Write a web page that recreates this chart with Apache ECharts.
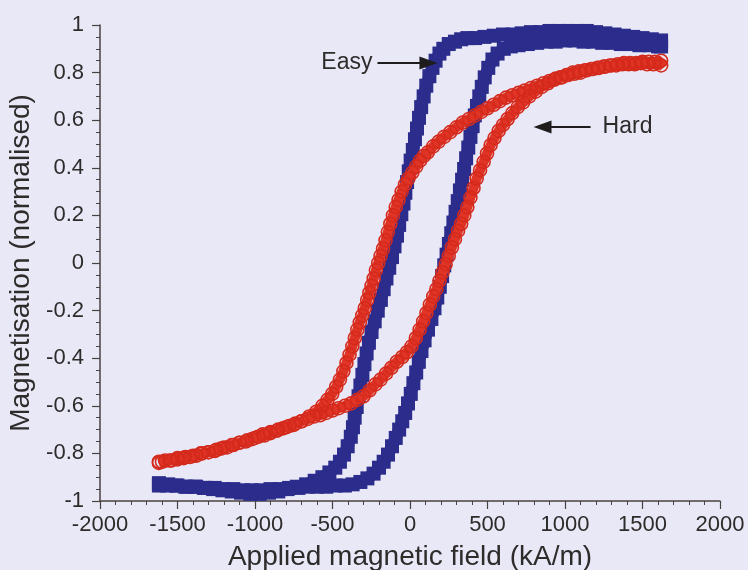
<!DOCTYPE html>
<html><head><meta charset="utf-8">
<script src="https://cdn.jsdelivr.net/npm/echarts@6/dist/echarts.min.js"></script>
<style>html,body{margin:0;padding:0;background:#e8e8f7;} #c{width:748px;height:570px;}</style>
</head><body><div id="c"></div><script>
// Easy axis loop: ascending branch (H increasing) then descending branch (H decreasing)
const easyAscending = [[-1620,-0.925],[-1560,-0.93],[-1500,-0.935],[-1440,-0.94],[-1380,-0.94],[-1320,-0.945],[-1260,-0.945],[-1200,-0.95],[-1140,-0.95],[-1080,-0.955],[-1020,-0.955],[-960,-0.955],[-900,-0.95],[-840,-0.95],[-780,-0.945],[-720,-0.945],[-660,-0.94],[-600,-0.94],[-540,-0.94],[-480,-0.935],[-420,-0.935],[-370,-0.93],[-320,-0.92],[-275,-0.905],[-235,-0.885],[-200,-0.86],[-170,-0.835],[-142,-0.805],[-116,-0.77],[-92,-0.735],[-70,-0.70],[-50,-0.665],[-31,-0.63],[-13,-0.59],[5,-0.55],[22,-0.505],[40,-0.46],[57,-0.415],[74,-0.37],[94,-0.325],[116,-0.28],[138,-0.235],[158,-0.19],[176,-0.145],[192,-0.10],[207,-0.055],[221,-0.01],[236,0.035],[251,0.08],[266,0.125],[280,0.17],[294,0.215],[308,0.26],[322,0.305],[336,0.35],[349,0.395],[362,0.44],[376,0.485],[390,0.53],[404,0.575],[418,0.62],[432,0.66],[447,0.70],[463,0.74],[482,0.78],[505,0.82],[532,0.855],[565,0.88],[605,0.90],[650,0.91],[700,0.915],[760,0.92],[820,0.925],[880,0.93],[940,0.93],[1000,0.935],[1060,0.935],[1120,0.93],[1180,0.93],[1240,0.925],[1300,0.925],[1360,0.92],[1420,0.92],[1480,0.915],[1540,0.915],[1600,0.91],[1620,0.91]];
const easyDescending = [[1620,0.935],[1560,0.94],[1500,0.945],[1440,0.95],[1380,0.955],[1320,0.96],[1260,0.965],[1200,0.97],[1140,0.975],[1080,0.975],[1020,0.975],[960,0.975],[900,0.975],[840,0.97],[780,0.97],[720,0.965],[660,0.96],[600,0.96],[540,0.955],[480,0.95],[420,0.945],[370,0.945],[330,0.94],[290,0.93],[250,0.92],[215,0.90],[190,0.88],[165,0.85],[145,0.82],[125,0.785],[105,0.745],[88,0.70],[72,0.655],[58,0.61],[45,0.565],[32,0.52],[18,0.475],[4,0.43],[-8,0.385],[-19,0.34],[-30,0.295],[-42,0.25],[-56,0.205],[-70,0.16],[-84,0.115],[-100,0.07],[-116,0.025],[-134,-0.02],[-152,-0.065],[-170,-0.11],[-188,-0.155],[-208,-0.20],[-228,-0.245],[-248,-0.29],[-265,-0.335],[-280,-0.38],[-294,-0.425],[-307,-0.47],[-320,-0.515],[-332,-0.56],[-344,-0.605],[-357,-0.65],[-368,-0.69],[-382,-0.73],[-402,-0.77],[-426,-0.805],[-452,-0.835],[-482,-0.86],[-520,-0.88],[-565,-0.90],[-615,-0.915],[-670,-0.93],[-730,-0.94],[-790,-0.95],[-850,-0.96],[-910,-0.965],[-970,-0.97],[-1030,-0.97],[-1090,-0.965],[-1150,-0.96],[-1210,-0.955],[-1270,-0.95],[-1330,-0.945],[-1390,-0.94],[-1450,-0.94],[-1510,-0.935],[-1570,-0.935],[-1620,-0.935]];
// Hard axis loop
const hardAscending = [[-1620,-0.835],[-1580,-0.83],[-1540,-0.83],[-1500,-0.825],[-1460,-0.82],[-1420,-0.815],[-1380,-0.81],[-1340,-0.80],[-1300,-0.795],[-1260,-0.79],[-1220,-0.78],[-1180,-0.775],[-1140,-0.765],[-1100,-0.755],[-1060,-0.75],[-1020,-0.74],[-980,-0.73],[-940,-0.725],[-900,-0.715],[-860,-0.705],[-820,-0.695],[-780,-0.685],[-740,-0.675],[-700,-0.665],[-660,-0.655],[-620,-0.645],[-580,-0.64],[-540,-0.63],[-500,-0.62],[-460,-0.61],[-420,-0.60],[-380,-0.59],[-340,-0.575],[-300,-0.56],[-260,-0.535],[-223,-0.51],[-190,-0.49],[-155,-0.465],[-120,-0.44],[-85,-0.415],[-50,-0.395],[-20,-0.375],[10,-0.35],[38,-0.315],[62,-0.28],[85,-0.245],[106,-0.21],[128,-0.175],[150,-0.14],[170,-0.11],[190,-0.075],[210,-0.04],[230,-0.005],[250,0.03],[270,0.065],[290,0.10],[310,0.135],[330,0.165],[350,0.20],[370,0.235],[390,0.275],[410,0.315],[430,0.355],[452,0.39],[475,0.425],[497,0.46],[520,0.495],[545,0.525],[572,0.555],[600,0.58],[630,0.605],[660,0.63],[695,0.655],[730,0.675],[770,0.70],[810,0.72],[850,0.74],[890,0.755],[930,0.77],[970,0.78],[1010,0.79],[1050,0.80],[1090,0.805],[1130,0.81],[1170,0.815],[1210,0.82],[1250,0.825],[1290,0.83],[1330,0.83],[1370,0.835],[1410,0.835],[1450,0.835],[1490,0.84],[1530,0.835],[1570,0.835],[1620,0.83]];
const hardDescending = [[1620,0.85],[1580,0.845],[1540,0.845],[1500,0.845],[1460,0.84],[1420,0.84],[1380,0.84],[1340,0.835],[1300,0.83],[1260,0.825],[1220,0.82],[1180,0.815],[1140,0.81],[1100,0.80],[1060,0.795],[1020,0.79],[980,0.78],[940,0.775],[900,0.765],[860,0.755],[820,0.745],[780,0.735],[740,0.725],[700,0.715],[660,0.705],[620,0.695],[580,0.68],[540,0.665],[500,0.65],[460,0.635],[420,0.62],[380,0.605],[340,0.59],[300,0.57],[260,0.55],[220,0.53],[185,0.51],[150,0.49],[115,0.465],[90,0.45],[65,0.43],[40,0.405],[15,0.38],[-10,0.355],[-32,0.33],[-54,0.30],[-74,0.265],[-92,0.235],[-110,0.20],[-127,0.165],[-143,0.13],[-158,0.095],[-174,0.06],[-190,0.03],[-205,0.0],[-220,-0.03],[-234,-0.065],[-248,-0.095],[-262,-0.125],[-276,-0.155],[-292,-0.19],[-308,-0.22],[-324,-0.25],[-340,-0.28],[-356,-0.315],[-372,-0.35],[-390,-0.385],[-410,-0.42],[-430,-0.455],[-452,-0.49],[-476,-0.52],[-502,-0.55],[-532,-0.575],[-565,-0.60],[-605,-0.625],[-650,-0.645],[-700,-0.665],[-750,-0.68],[-800,-0.69],[-850,-0.70],[-900,-0.71],[-950,-0.72],[-1000,-0.735],[-1050,-0.745],[-1100,-0.755],[-1150,-0.765],[-1200,-0.775],[-1250,-0.785],[-1300,-0.795],[-1350,-0.80],[-1400,-0.81],[-1450,-0.815],[-1500,-0.82],[-1550,-0.83],[-1600,-0.835],[-1620,-0.84]];
// Axis ranges and annotation anchors (data units)
const xRange = [-2000, 2000, 500];
const yRange = [-1, 1, 0.2];
const easyArrow = [[-210, 0.84], [119, 0.84]];
const hardArrow = [[1165, 0.571], [855, 0.571]];
const labels = ['Easy', 'Hard'];

const FONT = 'Liberation Sans, Arial, Helvetica, sans-serif';
const AX = '#4a4242';
const TXT = '#2e2b2b';
const BLUE = '#2b2c8c';
const RED = '#e03426';

const chart = echarts.init(document.getElementById('c'), null, {renderer: 'canvas'});
chart.setOption({
  animation: false,
  backgroundColor: '#e8e8f7',
  grid: {left: 100, right: 28, top: 25, bottom: 69, containLabel: false, outerBoundsMode: 'none'},
  xAxis: {
    type: 'value', min: xRange[0], max: xRange[1], interval: xRange[2],
    name: 'Applied magnetic field (kA/m)', nameLocation: 'middle', nameGap: 42,
    nameTextStyle: {fontFamily: FONT, fontSize: 28, color: TXT},
    axisLine: {show: true, onZero: false, lineStyle: {color: AX, width: 1.5}},
    axisTick: {show: true, inside: false, length: 8, lineStyle: {color: AX, width: 1.2}},
    minorTick: {show: true, splitNumber: 5, length: 4, lineStyle: {color: AX, width: 1}},
    splitLine: {show: false},
    axisLabel: {fontFamily: FONT, fontSize: 22, color: TXT, margin: 13,
      formatter: v => String(v)}
  },
  yAxis: {
    type: 'value', min: yRange[0], max: yRange[1], interval: yRange[2],
    name: 'Magnetisation (normalised)', nameLocation: 'middle', nameGap: 52,
    nameTextStyle: {fontFamily: FONT, fontSize: 28, color: TXT},
    axisLine: {show: true, onZero: false, lineStyle: {color: AX, width: 1.5}},
    axisTick: {show: true, inside: false, length: 8, lineStyle: {color: AX, width: 1.2}},
    minorTick: {show: true, splitNumber: 4, length: 4, lineStyle: {color: AX, width: 1}},
    splitLine: {show: false},
    axisLabel: {fontFamily: FONT, fontSize: 22, color: TXT, margin: 16,
      formatter: v => String(+v.toFixed(1))}
  },
  series: [
    {
      name: 'Easy', type: 'line', data: easyAscending.concat(easyDescending),
      symbol: 'rect', symbolSize: 14, showSymbol: true,
      itemStyle: {color: BLUE},
      lineStyle: {color: BLUE, width: 12},
      emphasis: {disabled: true}, silent: true, z: 2
    },
    {
      name: 'Hard', type: 'line', data: hardAscending.concat(hardDescending),
      symbol: 'circle', symbolSize: 13, showSymbol: true,
      itemStyle: {color: 'rgba(0,0,0,0)', borderColor: '#d42a1c', borderWidth: 1.6},
      lineStyle: {color: RED, width: 10},
      emphasis: {disabled: true}, silent: true, z: 3
    },
    {
      name: 'annotations', type: 'line', data: [], z: 4,
      markLine: {
        silent: true, animation: false,
        symbol: ['none', 'triangle'], symbolSize: [13, 18],
        lineStyle: {color: '#1e1c1c', width: 2, type: 'solid'},
        label: {show: true, position: 'start', formatter: '{b}', fontFamily: FONT, fontSize: 23, color: TXT, distance: 5},
        emphasis: {disabled: true},
        data: [
          [{coord: easyArrow[0], name: labels[0]}, {coord: easyArrow[1]}],
          [{coord: hardArrow[0], name: labels[1], label: {distance: 12}}, {coord: hardArrow[1]}]
        ]
      }
    }
  ]
});
</script></body></html>
